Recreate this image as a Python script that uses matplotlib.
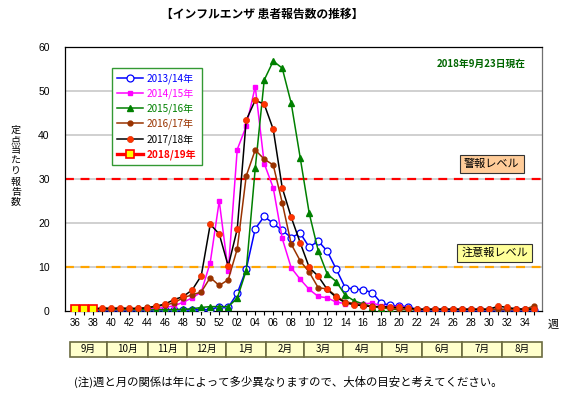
import matplotlib
matplotlib.use("Agg")
import matplotlib.pyplot as plt
from matplotlib.patches import Rectangle
import numpy as np

plt.rcParams['font.family'] = ['Noto Sans CJK JP', 'DejaVu Sans']

# ---------------- data ----------------
weeks = list(range(36, 53)) + list(range(1, 36))   # 52 weeks, 36 .. 35
week_labels = [f"{w:02d}" for w in weeks]

s2013 = [0.3]*14 + [0.3, 0.3, 1.0, 0.8, 4.0, 9.5, 18.7, 21.5, 19.9, 18.3, 16.7, 17.7,
                    14.5, 15.9, 13.6, 9.5, 5.3, 5.0, 4.8, 4.2, 1.8, 1.3, 1.1, 1.0] + [0.3]*14
s2014 = [0.3, 0.3, 0.3, 0.3, 0.3, 0.3, 0.4, 0.5, 0.5, 0.6, 0.8,
         1.2, 2.0, 3.0, 4.3, 11.0, 25.0, 9.0, 36.7, 42.0, 51.0, 33.5, 28.0, 16.5, 9.8,
         7.2, 4.9, 3.3, 3.0, 2.0, 1.7, 1.7, 1.6, 1.8, 1.2, 0.9, 1.1, 0.6] + [0.3]*14
s2015 = [0.3]*12 + [0.4, 0.5, 0.8, 1.0, 1.0, 1.0, 2.9, 9.2, 32.4, 52.5, 56.8, 55.2,
                    47.2, 34.8, 22.2, 13.7, 8.4, 6.7, 3.6, 2.3, 1.6, 1.0, 0.7, 0.5] + [0.3]*16
s2016 = [0.4, 0.4, 0.4, 0.5, 0.5, 0.5, 0.5, 0.6, 0.8,
         1.1, 1.3, 1.9, 3.0, 3.7, 4.3, 7.6, 5.8, 7.1, 14.1, 30.7, 36.6, 34.5, 33.2, 24.6,
         15.2, 11.4, 8.8, 5.3, 5.0, 3.4, 2.1, 1.7, 1.3, 1.1, 0.8, 0.7] + [0.4]*15 + [1.2]
s2017 = [0.5, 0.5, 0.5, 0.7, 0.6, 0.7, 0.6, 0.6, 0.7, 1.1, 1.6, 2.6, 3.3, 4.8, 8.0,
         19.7, 17.5, 10.2, 18.6, 43.4, 47.9, 47.0, 41.3, 28.0, 21.3, 15.5, 9.9, 7.9,
         4.9, 3.1, 1.9, 1.4, 1.2, 1.0, 1.0, 0.9, 0.8, 0.7] + [0.4]*9 + [1.1, 0.8, 0.5, 0.4, 0.5]
s2018 = [0.5, 0.5, 0.5]

season_labels = ["2013/14年", "2014/15年", "2015/16年", "2016/17年", "2017/18年", "2018/19年"]
months = ["9月", "10月", "11月", "12月", "1月", "2月", "3月", "4月", "5月", "6月", "7月", "8月"]
alert_level = 30
warning_level = 10

# ---------------- figure ----------------
fig = plt.figure(figsize=(5.70, 3.98), dpi=100)
ax = fig.add_axes([0.1140, 0.2186, 0.8368, 0.6633])

x_all = np.arange(len(weeks))

ax.set_xlim(-1.14, 51.86)
ax.set_ylim(0, 60)
ax.set_yticks(range(0, 61, 10))
for yv in range(10, 60, 10):
    ax.axhline(yv, color='#C8C8C8', lw=1.2, zorder=1)

ax.axhline(alert_level, color='#FF0000', lw=1.6, ls=(0, (4, 3)), zorder=2)
ax.axhline(warning_level, color='#FFA500', lw=1.6, ls=(0, (4, 3)), zorder=2)

l1, = ax.plot(x_all[:len(s2013)], s2013, color='#0000FF', lw=1.1, marker='o', ms=5,
              mfc='white', mec='#0000FF', mew=0.9, zorder=3)
l2, = ax.plot(x_all[:len(s2014)], s2014, color='#FF00FF', lw=1.1, marker='s', ms=3.5,
              mfc='#FF00FF', mec='#FF00FF', zorder=4)
l3, = ax.plot(x_all[:len(s2015)], s2015, color='#008000', lw=1.1, marker='^', ms=3.8,
              mfc='#008000', mec='#008000', zorder=5)
l4, = ax.plot(x_all[:len(s2016)], s2016, color='#993300', lw=1.1, marker='o', ms=3.5,
              mfc='#993300', mec='#993300', zorder=6)
l5, = ax.plot(x_all[:len(s2017)], s2017, color='black', lw=1.1, marker='o', ms=4.4,
              mfc='#FF3300', mec='#E03000', mew=0.5, zorder=7)
l6, = ax.plot(x_all[:len(s2018)], s2018, color='#FF0000', lw=2.4, marker='s', ms=6.2,
              mfc='#FFFF00', mec='#FF0000', mew=1.2, zorder=8)

ax.set_xticks(x_all)
ax.set_xticklabels([lab if i % 2 == 0 else '' for i, lab in enumerate(week_labels)],
                   fontsize=7, family=['Liberation Sans', 'DejaVu Sans'])
ax.tick_params(axis='x', length=3, width=0.8, direction='out', pad=2)
ax.tick_params(axis='y', length=0, pad=11, labelsize=7.5)
for t in ax.get_yticklabels():
    t.set_family(['Liberation Sans', 'DejaVu Sans'])

for s in ax.spines.values():
    s.set_color('black')
    s.set_linewidth(0.9)
ax.spines['right'].set_color('#707070')

leg = ax.legend([l1, l2, l3, l4, l5, l6], season_labels, loc='upper left',
                bbox_to_anchor=(0.088, 0.94), fontsize=7.2, frameon=True, fancybox=False,
                edgecolor='#339933', framealpha=1, handlelength=2.6, labelspacing=0.45,
                borderpad=0.5, handletextpad=0.4)
leg.get_frame().set_linewidth(1.0)
text_colors = ['#0000FF', '#FF00FF', '#008000', '#993300', 'black', '#FF0000']
for t, c in zip(leg.get_texts(), text_colors):
    t.set_color(c)
leg.get_texts()[-1].set_fontweight('bold')

ax.text(0.965, 0.955, "2018年9月23日現在", transform=ax.transAxes, ha='right', va='top',
        fontsize=7, color='#006600', fontweight='bold')

ax.text(46.3, 33.4, "警報レベル", ha='center', va='center', fontsize=8,
        bbox=dict(boxstyle='square,pad=0.35', fc='#FFCC99', ec='#333333', lw=0.8), zorder=9)
ax.text(46.6, 13.2, "注意報レベル", ha='center', va='center', fontsize=8,
        bbox=dict(boxstyle='square,pad=0.35', fc='#FFFF99', ec='#333333', lw=0.8), zorder=9)

# month bar
axm = fig.add_axes([70/570, 1 - 356.7/398, 471.7/570, 15/398])
axm.set_xlim(0, 1)
axm.set_ylim(0, 1)
axm.axis('off')
month_edges = [0, 0.079, 0.166, 0.248, 0.330, 0.415, 0.496, 0.579, 0.661, 0.747, 0.831, 0.916, 1.0]
for i, m in enumerate(months):
    x0, x1 = month_edges[i], month_edges[i + 1]
    axm.add_patch(Rectangle((x0, 0), x1 - x0, 1, fc='#FFFFCC', ec='#6B6B40', lw=1.2,
                            clip_on=False))
    axm.text((x0 + x1) / 2, 0.5, m, ha='center', va='center', fontsize=7)

# texts
fig.text(262/570, 1 - 14/398, "【インフルエンザ 患者報告数の推移】", ha='center', va='center',
         fontsize=8.5, fontweight='bold')
fig.text(553/570, 1 - 325/398, "週", ha='center', va='center', fontsize=8)
fig.text(16/570, 1 - 166/398, "\n".join("定点当たり報告数"), ha='center', va='center',
         fontsize=7.2, linespacing=1.05)
fig.text(288/570, 1 - 382/398, "(注)週と月の関係は年によって多少異なりますので、大体の目安と考えてください。",
         ha='center', va='center', fontsize=8.2)

fig.savefig("out.png", dpi=100)
